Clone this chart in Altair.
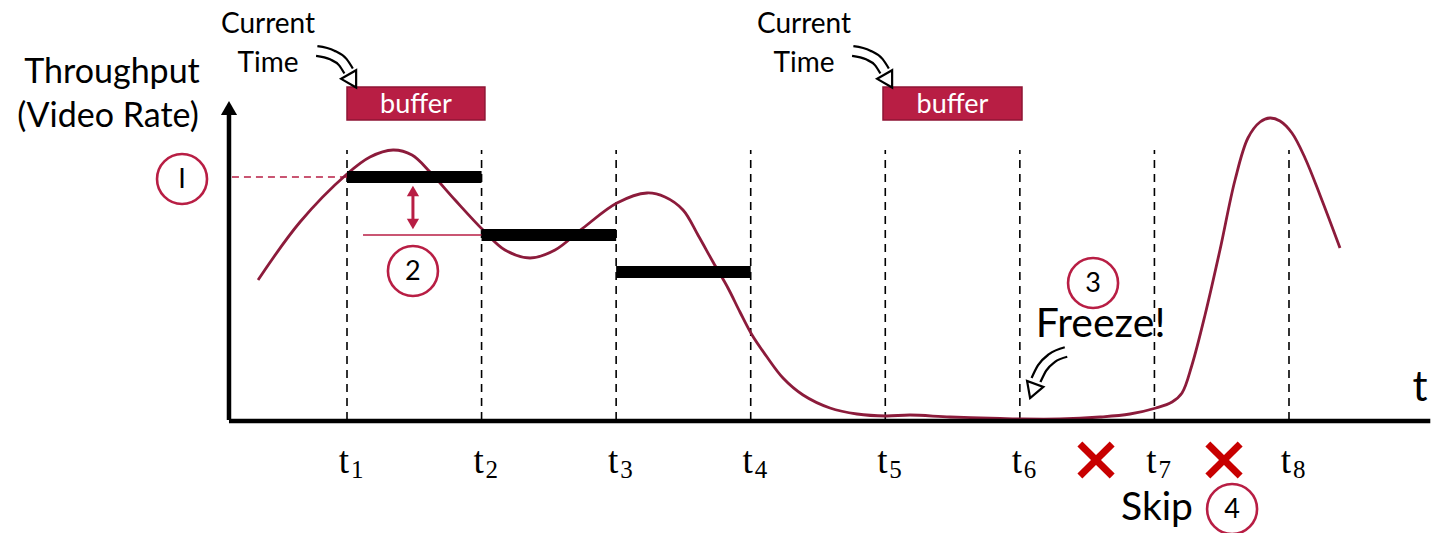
import altair as alt
import pandas as pd

# ---------------- data (time in units of t_k, throughput in arbitrary units) ----
X_DOMAIN = [-1.5786, 9.0701]
Y_DOMAIN = [-11.3, 42.0]

curve_t = [0.339, 0.651, 1.0, 1.171, 1.342, 1.483, 1.617, 1.803, 2.011, 2.174, 2.360,
           2.546, 2.754, 3.006, 3.229, 3.363, 3.497, 3.608, 3.720, 3.831, 3.920, 4.010,
           4.121, 4.240, 4.389, 4.589, 4.790, 5.005, 5.184, 5.481, 5.853, 6.009, 6.298,
           6.596, 6.818, 7.012, 7.131, 7.205, 7.279, 7.376, 7.487, 7.599, 7.695, 7.785,
           7.859, 7.933, 8.022, 8.119, 8.230, 8.379]
curve_v = [14.0, 19.8, 24.6, 26.3, 27.0, 26.5, 24.8, 22.0, 19.0, 17.0, 16.2,
           17.0, 19.2, 21.7, 22.7, 22.3, 21.0, 18.5, 15.8, 13.2, 10.8, 8.5,
           6.3, 4.2, 2.5, 1.2, 0.6, 0.4, 0.5, 0.3, 0.15, 0.1, 0.1,
           0.3, 0.6, 1.2, 1.8, 2.7, 5.5, 10.5, 17.0, 24.0, 28.2, 29.8,
           30.2, 29.9, 28.7, 26.2, 22.5, 17.2]

bar_start = [1, 2, 3]
bar_end = [2, 3, 4]
bar_level = [24.3, 18.5, 14.8]

tick_pos = [1, 2, 3, 4, 5, 6, 7, 8]
tick_sub = ["1", "2", "3", "4", "5", "6", "7", "8"]
grid_top = 27.0

buffer_start = [1.0, 4.983]
buffer_end = [2.025, 6.016]
buffer_low, buffer_high = 30.0, 33.3

circle_t = [-0.226, 1.490, 6.544, 7.577]
circle_v = [24.1, 14.9, 13.7, -8.9]
circle_lbl = ["I", "2", "3", "4"]

skip_t = [6.566, 7.517]
skip_v = [-4.0, -4.0]

arrow_path_t = [0.775, 0.890, 0.968, 1.012]
arrow_path_v = [36.9, 36.5, 35.8, 34.9]
arrow_shift = 3.983
freeze_path_t = [6.343, 6.239, 6.165, 6.120]
freeze_path_v = [6.8, 6.2, 5.2, 4.0]

MAROON = "#8C1B3B"
CRIMSON = "#B81E44"
XRED = "#C80000"
FONT = "Lato"

sx = alt.Scale(domain=X_DOMAIN, nice=False, zero=False)
sy = alt.Scale(domain=Y_DOMAIN, nice=False, zero=False)


def X(f="t"):
    return alt.X(f"{f}:Q", scale=sx, axis=None)


def Y(f="v"):
    return alt.Y(f"{f}:Q", scale=sy, axis=None)


layers = []

# dashed verticals
grid = pd.DataFrame({"t": tick_pos, "v": [0] * 8, "v2": [grid_top] * 8})
layers.append(alt.Chart(grid).mark_rule(color="black", strokeWidth=1.6, strokeDash=[8, 6])
              .encode(x=X(), y=Y(), y2="v2:Q"))

# red reference lines
ref = pd.DataFrame({"t": [0.145, 1.119], "t2": [1.0, 2.011], "v": [bar_level[0], bar_level[1]],
                    "dash": ["d", "s"]})
layers.append(alt.Chart(ref[ref.dash == "d"]).mark_rule(color=CRIMSON, strokeWidth=1.6, strokeDash=[7, 5])
              .encode(x=X(), x2="t2:Q", y=Y()))
layers.append(alt.Chart(ref[ref.dash == "s"]).mark_rule(color=CRIMSON, strokeWidth=1.6)
              .encode(x=X(), x2="t2:Q", y=Y()))

# throughput curve
cdf = pd.DataFrame({"t": curve_t, "v": curve_v})
layers.append(alt.Chart(cdf).mark_line(color=MAROON, strokeWidth=2.8, interpolate="catmull-rom")
              .encode(x=X(), y=Y()))

# chosen bitrate bars
bdf = pd.DataFrame({"t": bar_start, "t2": bar_end, "v": bar_level})
layers.append(alt.Chart(bdf).mark_rule(color="black", strokeWidth=12)
              .encode(x=X(), x2="t2:Q", y=Y()))

# axes
axes = pd.DataFrame({"t": [0.123, 0.123], "t2": [0.123, 9.05], "v": [0.0, -0.1], "v2": [30.5, -0.1]})
layers.append(alt.Chart(axes).mark_rule(color="black", strokeWidth=4.5)
              .encode(x=X(), x2="t2:Q", y=Y(), y2="v2:Q"))
layers.append(alt.Chart(pd.DataFrame({"t": [0.123], "v": [31.2]}))
              .mark_point(shape="triangle-up", filled=True, color="black", size=260, opacity=1)
              .encode(x=X(), y=Y()))

# red double arrow
dbl = pd.DataFrame({"t": [1.490], "v": [22.8], "v2": [19.7]})
layers.append(alt.Chart(dbl).mark_rule(color=CRIMSON, strokeWidth=3)
              .encode(x=X(), y=Y(), y2="v2:Q"))
heads = pd.DataFrame({"t": [1.490, 1.490], "v": [22.9, 19.6], "shape": ["triangle-up", "triangle-down"]})
layers.append(alt.Chart(heads).mark_point(filled=True, color=CRIMSON, size=150, opacity=1)
              .encode(x=X(), y=Y(), shape=alt.Shape("shape:N", scale=None, legend=None)))

# numbered circles
circ = pd.DataFrame({"t": circle_t, "v": circle_v, "lbl": circle_lbl})
layers.append(alt.Chart(circ).mark_point(shape="circle", filled=False, color=CRIMSON, size=2500,
                                         strokeWidth=2.6, opacity=1)
              .encode(x=X(), y=Y()))
layers.append(alt.Chart(circ).mark_text(font=FONT, fontSize=27, color="black", baseline="middle", dy=1)
              .encode(x=X(), y=Y(), text="lbl:N"))

# buffer boxes
buf = pd.DataFrame({"t": buffer_start, "t2": buffer_end, "v": [buffer_low] * 2, "v2": [buffer_high] * 2,
                    "lbl": ["buffer", "buffer"]})
buf["tm"] = (buf.t + buf.t2) / 2
buf["vm"] = (buf.v + buf.v2) / 2
layers.append(alt.Chart(buf).mark_rect(color=CRIMSON, stroke="#8E1534", strokeWidth=1.5)
              .encode(x=X(), x2="t2:Q", y=Y(), y2="v2:Q"))
layers.append(alt.Chart(buf).mark_text(font=FONT, fontSize=27, color="white", baseline="middle", dy=1)
              .encode(x=X("tm"), y=Y("vm"), text="lbl:N"))

# plain text labels
txt = pd.DataFrame({
    "t": [-0.746, -0.776, 0.413, 0.413, 4.396, 4.396, 6.60, 7.019, 8.973],
    "v": [34.7, 30.3, 39.5, 35.6, 39.5, 35.6, 9.5, -8.8, 3.2],
    "lbl": ["Throughput", "(Video Rate)", "Current", "Time", "Current", "Time", "Freeze!", "Skip", "t"],
    "size": [34, 34, 28, 28, 28, 28, 41, 39, 42],
})
for s in sorted(set(txt["size"])):
    layers.append(alt.Chart(txt[txt["size"] == s]).mark_text(font=FONT, fontSize=int(s), color="black",
                                                         baseline="middle")
                  .encode(x=X(), y=Y(), text="lbl:N"))

# tick labels t_k
tk = pd.DataFrame({"t": tick_pos, "v": [-4.2] * 8, "lbl": ["t"] * 8, "sub": tick_sub})
layers.append(alt.Chart(tk).mark_text(font="Liberation Serif", fontSize=37, color="black",
                                      baseline="middle", dx=-3)
              .encode(x=X(), y=Y(), text="lbl:N"))
layers.append(alt.Chart(tk).mark_text(font="Liberation Serif", fontSize=25, color="black",
                                      baseline="middle", align="left", dx=4, dy=8)
              .encode(x=X(), y=Y(), text="sub:N"))

# skip crosses
cr = []
for ct, cv in zip(skip_t, skip_v):
    cr.append({"t": ct - 0.12, "t2": ct + 0.12, "v": cv - 1.6, "v2": cv + 1.6})
    cr.append({"t": ct - 0.12, "t2": ct + 0.12, "v": cv + 1.6, "v2": cv - 1.6})
layers.append(alt.Chart(pd.DataFrame(cr)).mark_rule(color=XRED, strokeWidth=7)
              .encode(x=X(), x2="t2:Q", y=Y(), y2="v2:Q"))

# curved outline arrows
arr_rows = []
for k, (a, b) in enumerate(zip(arrow_path_t, arrow_path_v)):
    arr_rows.append({"g": "a1", "o": k, "t": a, "v": b})
    arr_rows.append({"g": "a2", "o": k, "t": a + arrow_shift, "v": b})
for k, (a, b) in enumerate(zip(freeze_path_t, freeze_path_v)):
    arr_rows.append({"g": "a3", "o": k, "t": a, "v": b})
adf = pd.DataFrame(arr_rows)
layers.append(alt.Chart(adf).mark_line(color="black", strokeWidth=12, interpolate="monotone", strokeCap="butt")
              .encode(x=X(), y=Y(), detail="g:N", order="o:Q"))
layers.append(alt.Chart(adf).mark_line(color="white", strokeWidth=7.5, interpolate="monotone", strokeCap="round")
              .encode(x=X(), y=Y(), detail="g:N", order="o:Q"))
ah = pd.DataFrame({"t": [1.04, 1.04 + arrow_shift, 6.095], "v": [33.9, 33.9, 2.9], "ang": [150, 150, 200]})
layers.append(alt.Chart(ah).mark_point(shape="triangle-up", filled=True, fill="white", stroke="black",
                                       strokeWidth=2.2, size=300, opacity=1)
              .encode(x=X(), y=Y(), angle=alt.Angle("ang:Q", scale=None)))

chart = alt.layer(*layers).properties(width=1433, height=533, padding=0, autosize="none") \
    .configure_view(stroke=None)

chart.save("out.html", embed_options={"renderer": "svg", "actions": False})
